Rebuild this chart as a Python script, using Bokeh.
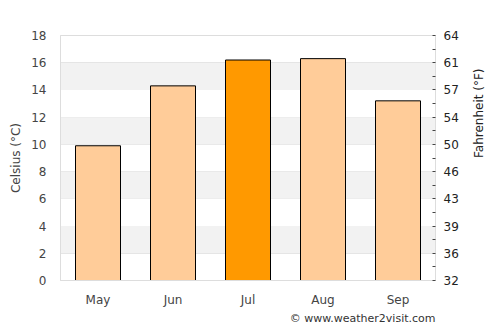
from bokeh.plotting import figure
from bokeh.models import (Range1d, LinearAxis, FixedTicker, BoxAnnotation, ColumnDataSource, Title)
from bokeh.embed import file_html
from bokeh.resources import INLINE

months = ["May", "Jun", "Jul", "Aug", "Sep"]
celsius = [9.9, 14.3, 16.2, 16.3, 13.2]
colors = ["#ffcc99", "#ffcc99", "#ff9900", "#ffcc99", "#ffcc99"]
c_ticks = [0, 2, 4, 6, 8, 10, 12, 14, 16, 18]
f_labels = ["32", "36", "39", "43", "46", "50", "54", "57", "61", "64"]

src = ColumnDataSource(dict(m=months, c=celsius, col=colors))

p = figure(x_range=months, width=500, height=325, output_backend="svg", toolbar_location=None,
           min_border_left=60, min_border_right=65, min_border_top=35, min_border_bottom=45,
           y_range=Range1d(0, 18))
p.background_fill_color = "white"
p.outline_line_color = "#dddddd"

for lo in [2, 6, 10, 14]:
    p.add_layout(BoxAnnotation(bottom=lo, top=lo + 2, fill_color="#f2f2f2", fill_alpha=1, line_alpha=0, level="underlay"))

p.vbar(x="m", top="c", width=0.6, source=src, fill_color="col", line_color="black", line_width=1)

p.xgrid.grid_line_color = None
p.ygrid.grid_line_color = "#e0e0e0"
p.ygrid.ticker = FixedTicker(ticks=c_ticks)

p.yaxis.ticker = FixedTicker(ticks=c_ticks)
p.yaxis.axis_label = "Celsius (°C)"
for ax in [p.yaxis[0], p.xaxis[0]]:
    ax.axis_line_color = "#dddddd"
    ax.major_tick_line_color = None
    ax.minor_tick_line_color = None
    ax.major_label_text_font_size = "12px"
    ax.major_label_text_color = "#444444"
    ax.major_label_text_font = "DejaVu Sans"
    ax.axis_label_text_font_style = "normal"
    ax.axis_label_text_font = "DejaVu Sans"
p.yaxis.axis_label_text_font_size = "12px"
p.yaxis.axis_label_text_color = "#444444"
p.yaxis.major_label_standoff = 8
p.xaxis.major_label_standoff = 6

p.extra_y_ranges = {"f": Range1d(32, 64.4)}
f_ticks = [32 + 1.8 * c for c in c_ticks]
f_minor = [32 + 1.8 * c for c in range(1, 18, 2)]
ra = LinearAxis(y_range_name="f", axis_label="Fahrenheit (°F)")
ra.ticker = FixedTicker(ticks=f_ticks, minor_ticks=f_minor)
ra.major_label_overrides = {t: l for t, l in zip(f_ticks, f_labels)}
ra.axis_line_color = "#dddddd"
ra.major_tick_line_color = "#444444"
ra.minor_tick_line_color = "#444444"
ra.major_tick_in = 3
ra.major_tick_out = 0
ra.minor_tick_in = 3
ra.minor_tick_out = 0
ra.major_label_standoff = 8
ra.major_label_text_font_size = "12px"
ra.major_label_text_color = "#222222"
ra.major_label_text_font = "DejaVu Sans"
ra.axis_label_text_font_size = "12px"
ra.axis_label_text_font_style = "normal"
ra.axis_label_text_color = "#222222"
ra.axis_label_text_font = "DejaVu Sans"
ra.axis_label_orientation = 1.5708
ra.axis_label_standoff = 17
p.add_layout(ra, "right")

p.add_layout(Title(text="© www.weather2visit.com", align="right", text_font_size="11px",
                   text_font_style="normal", text_color="#333333", text_font="DejaVu Sans",
                   standoff=0, offset=0), "below")

open("out.html", "w").write(file_html(p, INLINE))
